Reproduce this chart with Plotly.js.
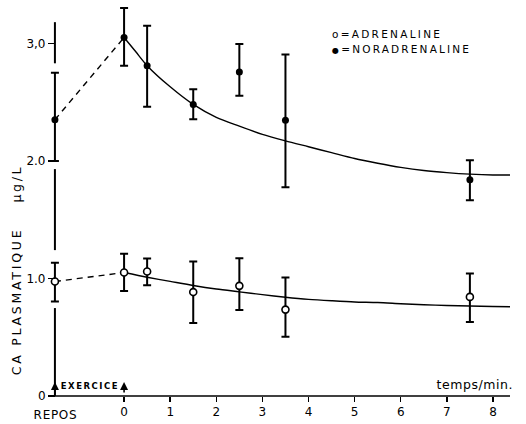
<!DOCTYPE html>
<html>
<head>
<meta charset="utf-8">
<script src="https://cdn.plot.ly/plotly-3.0.1.min.js"></script>
<style>html,body{margin:0;padding:0;background:#fff;}</style>
</head>
<body>
<div id="chart" style="width:526px;height:424px;"></div>
<script>
// ---- data ----
var REPOS_X = -1.5;                       // "REPOS" position on the time axis
var times = [0, 0.5, 1.5, 2.5, 3.5, 7.5]; // minutes after exercise

var noradReposVal = 2.35, noradReposPlus = 0.40, noradReposMinus = 0.35;
var noradVals  = [3.05, 2.81, 2.48, 2.755, 2.345, 1.84];
var noradPlus  = [0.25, 0.34, 0.13, 0.24, 0.56, 0.165];
var noradMinus = [0.24, 0.35, 0.125, 0.20, 0.57, 0.175];

var adrReposVal = 0.974, adrReposPlus = 0.16, adrReposMinus = 0.17;
var adrVals  = [1.05, 1.059, 0.884, 0.937, 0.735, 0.843];
var adrPlus  = [0.16, 0.11, 0.26, 0.235, 0.273, 0.20];
var adrMinus = [0.157, 0.116, 0.264, 0.205, 0.232, 0.214];

// fitted curves as drawn in the reference (read values)
var noradCurveT = [0, 0.25, 0.5, 1, 1.5, 2, 2.5, 3, 3.5, 4, 4.5, 5, 5.5, 6, 6.5, 7, 7.5, 8, 8.37];
var noradCurveY = [3.05, 2.93, 2.81, 2.63, 2.48, 2.37, 2.295, 2.225, 2.17, 2.12, 2.07, 2.02, 1.98, 1.945, 1.918, 1.90, 1.887, 1.88, 1.88];
var adrCurveT = [0, 0.5, 1, 1.5, 2, 2.5, 3, 3.5, 4, 4.5, 5, 5.5, 6, 6.5, 7, 7.5, 8, 8.37];
var adrCurveY = [1.05, 1.01, 0.975, 0.94, 0.91, 0.886, 0.862, 0.84, 0.822, 0.81, 0.80, 0.795, 0.785, 0.776, 0.77, 0.765, 0.761, 0.759];

var xTickVals = [0, 1, 2, 3, 4, 5, 6, 7, 8];
var yTickVals = [0, 1, 2, 3];
var yTickText = ['0', '1.0', '2.0', '3,0'];

var legendLabels = ['o=ADRENALINE', '=NORADRENALINE'];
var legendDot = '\u25cf';
var yTitleMain = 'CA PLASMATIQUE';
var yTitleUnit = '\u00b5g/L';
var xTitle = 'temps/min.';
var reposLabel = 'REPOS';
var exerciceLabel = 'EXERCICE';

// ---- chart ----
var FONT = 'DejaVu Sans, Arial, sans-serif';
var ebStyle = {thickness: 2, width: 4, color: '#000'};
var X_MIN = -1.65, X_MAX = 8.37;

var traces = [
  {x: [REPOS_X, times[0]], y: [noradReposVal, noradVals[0]], mode: 'lines',
   line: {color: '#000', width: 1.4, dash: '6px,5px'}, hoverinfo: 'skip'},
  {x: [REPOS_X, times[0]], y: [adrReposVal, adrVals[0]], mode: 'lines',
   line: {color: '#000', width: 1.4, dash: '6px,5px'}, hoverinfo: 'skip'},
  {x: noradCurveT, y: noradCurveY, mode: 'lines',
   line: {color: '#000', width: 1.4, shape: 'spline', smoothing: 0.8}, hoverinfo: 'skip'},
  {x: adrCurveT, y: adrCurveY, mode: 'lines',
   line: {color: '#000', width: 1.4, shape: 'spline', smoothing: 0.8}, hoverinfo: 'skip'},
  {x: [REPOS_X].concat(times), y: [noradReposVal].concat(noradVals), mode: 'markers',
   cliponaxis: false,
   marker: {symbol: 'circle', size: 7, color: '#000'},
   error_y: Object.assign({type: 'data', symmetric: false,
     array: [noradReposPlus].concat(noradPlus), arrayminus: [noradReposMinus].concat(noradMinus)}, ebStyle)},
  {x: [REPOS_X].concat(times), y: [adrReposVal].concat(adrVals), mode: 'markers',
   cliponaxis: false,
   marker: {symbol: 'circle', size: 7, color: '#fff', line: {color: '#000', width: 1.6}},
   error_y: Object.assign({type: 'data', symmetric: false,
     array: [adrReposPlus].concat(adrPlus), arrayminus: [adrReposMinus].concat(adrMinus)}, ebStyle)}
];

// broken left axis line (gaps around the rest-point error bars) + bottom axis line
var axisSegs = [[0, 0.748], [1.241, 1.93], [2.83, 3.18]];
var shapes = axisSegs.map(function (s) {
  return {type: 'line', xref: 'x', yref: 'y', x0: REPOS_X, x1: REPOS_X, y0: s[0], y1: s[1],
          line: {color: '#000', width: 2}, layer: 'below'};
});
shapes.push({type: 'line', xref: 'x', yref: 'paper', x0: REPOS_X, x1: X_MAX, y0: 0, y1: 0,
             line: {color: '#000', width: 1.4}, layer: 'above'});

var annotations = [
  {xref: 'x', yref: 'y', x: 4.46, y: 3.078, xanchor: 'left', yanchor: 'middle', showarrow: false,
   text: legendLabels[0], font: {family: FONT, size: 10.5, color: '#000'}},
  {xref: 'x', yref: 'y', x: 4.46, y: 2.95, xanchor: 'left', yanchor: 'middle', showarrow: false,
   text: '<span style="font-size:8px">' + legendDot + '</span>' + legendLabels[1],
   font: {family: FONT, size: 10.5, color: '#000'}},
  {xref: 'x', yref: 'y', x: REPOS_X, xshift: -38, y: 0.795, textangle: -90, showarrow: false,
   xanchor: 'center', yanchor: 'middle',
   text: yTitleMain, font: {family: FONT, size: 12.5, color: '#000'}},
  {xref: 'x', yref: 'y', x: REPOS_X, xshift: -38, y: 1.798, textangle: -90, showarrow: false,
   xanchor: 'center', yanchor: 'middle',
   text: yTitleUnit, font: {family: FONT, size: 12.5, color: '#000'}},
  {xref: 'x', yref: 'paper', x: 7.6, y: 0, yshift: 11.5, showarrow: false,
   xanchor: 'center', yanchor: 'middle',
   text: xTitle, font: {family: FONT, size: 12.5, color: '#000'}},
  {xref: 'x', yref: 'paper', x: REPOS_X, y: 0, yshift: -19, showarrow: false,
   xanchor: 'center', yanchor: 'middle',
   text: reposLabel, font: {family: FONT, size: 12, color: '#000'}},
  {xref: 'x', yref: 'paper', x: -0.76, y: 0, yshift: 10, showarrow: false,
   xanchor: 'center', yanchor: 'middle',
   text: '<b>' + exerciceLabel + '</b>', font: {family: FONT, size: 8.5, color: '#000'}},
  {xref: 'x', yref: 'y', x: REPOS_X, y: 0.12, ax: 0, ay: 14, showarrow: true, text: '',
   arrowhead: 2, arrowsize: 1, arrowwidth: 1.6, arrowcolor: '#000'},
  {xref: 'x', yref: 'y', x: 0, y: 0.12, ax: 0, ay: 12, showarrow: true, text: '',
   arrowhead: 2, arrowsize: 1, arrowwidth: 1.6, arrowcolor: '#000'}
];

var layout = {
  width: 526, height: 424,
  margin: {l: 48, r: 16, t: 1, b: 28, pad: 0},
  paper_bgcolor: '#fff', plot_bgcolor: '#fff',
  showlegend: false,
  font: {family: FONT, color: '#000'},
  xaxis: {range: [X_MIN, X_MAX], tickvals: xTickVals, ticks: 'outside', ticklen: 5, tickwidth: 1.4,
          tickcolor: '#000', showline: false,
          showgrid: false, zeroline: false, tickfont: {family: FONT, size: 12, color: '#000'}},
  yaxis: {range: [0, 3.36], tickvals: yTickVals, ticktext: yTickText, ticks: 'outside', ticklen: 7,
          tickwidth: 1.4, tickcolor: '#000', showline: false, showgrid: false, zeroline: false,
          anchor: 'free', position: (REPOS_X - X_MIN) / (X_MAX - X_MIN),
          tickfont: {family: FONT, size: 12, color: '#000'}},
  shapes: shapes,
  annotations: annotations
};

// desired rendered text lengths (px) and which edge to keep fixed
var textFit = [
  {match: legendLabels[0], width: 108, keep: 'left'},
  {match: legendLabels[1], width: 137, keep: 'left'},
  {match: yTitleMain, width: 145, keep: 'center'},
  {match: yTitleUnit, width: 35, keep: 'center'},
  {match: xTitle, width: 76, keep: 'center'},
  {match: reposLabel, width: 43, keep: 'center'},
  {match: exerciceLabel, width: 57, keep: 'center'}
];

Plotly.newPlot('chart', traces, layout, {staticPlot: true}).then(function () {
  document.querySelectorAll('.annotation-text').forEach(function (t) {
    var txt = t.textContent;
    var cfg = null;
    textFit.forEach(function (f) { if (txt.indexOf(f.match) >= 0 && (!cfg || f.match.length > cfg.match.length)) cfg = f; });
    if (!cfg) return;
    var b0 = t.getBBox();
    var n = txt.length;
    var s = (cfg.width - b0.width) / Math.max(1, n - 1);
    t.setAttribute('letter-spacing', s.toFixed(2) + 'px');
    var b1 = t.getBBox();
    var dx = cfg.keep === 'left' ? (b0.x - b1.x)
      : ((b0.x + b0.width / 2) - (b1.x + (b1.width - s) / 2));
    var x0 = parseFloat(t.getAttribute('x') || '0');
    t.setAttribute('x', x0 + dx);
    t.querySelectorAll('tspan[x]').forEach(function (ts) {
      ts.setAttribute('x', parseFloat(ts.getAttribute('x')) + dx);
    });
  });
});
</script>
</body>
</html>
